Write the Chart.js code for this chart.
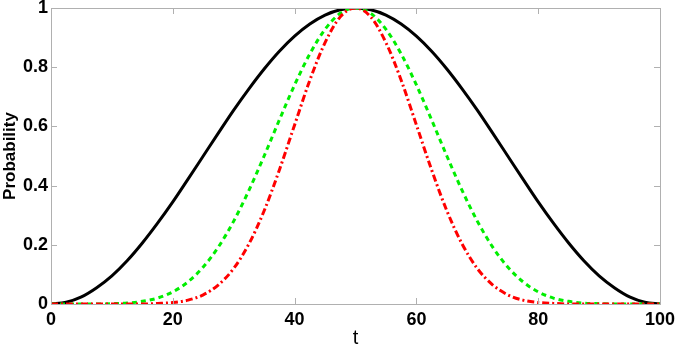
<!DOCTYPE html>
<html>
<head>
<meta charset="utf-8">
<script src="https://cdn.jsdelivr.net/npm/chart.js@4.4.0/dist/chart.umd.min.js"></script>
<style>
  html, body { margin: 0; padding: 0; background: #fff; }
  #wrap { width: 675px; height: 350px; }
</style>
</head>
<body>
<div id="wrap"><canvas id="prob-chart"></canvas></div>
<script>
// t values, step 2.5
let tValues = [0, 2.5, 5, 7.5, 10, 12.5, 15, 17.5, 20, 22.5, 25, 27.5, 30, 32.5, 35, 37.5, 40, 42.5, 45, 47.5, 50,
    52.5, 55, 57.5, 60, 62.5, 65, 67.5, 70, 72.5, 75, 77.5, 80, 82.5, 85, 87.5, 90, 92.5, 95, 97.5, 100]

let blackCurve = [0, 0.006, 0.024, 0.055, 0.095, 0.146, 0.206, 0.273, 0.345, 0.422, 0.5, 0.578, 0.655, 0.727, 0.794, 0.854, 0.905, 0.946, 0.976, 0.994, 1,
    0.994, 0.976, 0.946, 0.905, 0.854, 0.794, 0.727, 0.655, 0.578, 0.5, 0.422, 0.345, 0.273, 0.206, 0.146, 0.095, 0.055, 0.024, 0.006, 0]

let greenCurve = [0, 0, 0, 0, 0.001, 0.003, 0.009, 0.020, 0.041, 0.075, 0.125, 0.193, 0.280, 0.384, 0.500, 0.622, 0.740, 0.845, 0.928, 0.982, 1,
    0.982, 0.928, 0.845, 0.740, 0.622, 0.500, 0.384, 0.280, 0.193, 0.125, 0.075, 0.041, 0.020, 0.009, 0.003, 0.001, 0, 0, 0, 0]

let redCurve = [0, 0, 0, 0, 0, 0, 0, 0.002, 0.005, 0.013, 0.031, 0.065, 0.120, 0.203, 0.315, 0.453, 0.605, 0.756, 0.883, 0.970, 1,
    0.970, 0.883, 0.756, 0.605, 0.453, 0.315, 0.203, 0.120, 0.065, 0.031, 0.013, 0.005, 0.002, 0, 0, 0, 0, 0, 0, 0]

let xTicks = [0, 20, 40, 60, 80, 100]
let yTicks = [0, 0.2, 0.4, 0.6, 0.8, 1]

function toPoints(vals) {
    return tValues.map((t, i) => ({ x: t, y: vals[i] }))
}

// matlab-like box with inward ticks
const boxPlugin = {
    id: "boxTicks",
    afterDraw(chart) {
        let ctx = chart.ctx
        let a = chart.chartArea
        let xs = chart.scales.x
        let ys = chart.scales.y
        ctx.save()
        ctx.strokeStyle = "#b0b0b0"
        ctx.lineWidth = 1
        ctx.strokeRect(Math.round(a.left) + 0.5, Math.round(a.top) + 0.5, Math.round(a.right - a.left), Math.round(a.bottom - a.top))
        ctx.beginPath()
        for (let v of xTicks) {
            let px = Math.round(xs.getPixelForValue(v)) + 0.5
            ctx.moveTo(px, a.bottom); ctx.lineTo(px, a.bottom - 6)
            ctx.moveTo(px, a.top); ctx.lineTo(px, a.top + 6)
        }
        for (let v of yTicks) {
            let py = Math.round(ys.getPixelForValue(v)) + 0.5
            ctx.moveTo(a.left, py); ctx.lineTo(a.left + 6, py)
            ctx.moveTo(a.right, py); ctx.lineTo(a.right - 6, py)
        }
        ctx.stroke()
        ctx.restore()
    }
}

let ctx = document.getElementById("prob-chart").getContext("2d")
let myChart = new Chart(ctx, {
    type: "line",
    data: {
        datasets: [
            { data: toPoints(blackCurve), borderColor: "#000000", borderWidth: 3, order: 3 },
            { data: toPoints(greenCurve), borderColor: "#00ee00", borderWidth: 3, borderDash: [5, 4], order: 2 },
            { data: toPoints(redCurve), borderColor: "#ff0000", borderWidth: 3, borderDash: [7, 3, 2, 3], order: 1 }
        ]
    },
    plugins: [boxPlugin],
    options: {
        responsive: true,
        maintainAspectRatio: false,
        animation: false,
        layout: { padding: { top: 8, right: 15, left: 0, bottom: 0 } },
        elements: {
            point: { radius: 0 },
            line: { cubicInterpolationMode: "monotone", fill: false }
        },
        plugins: { legend: { display: false }, tooltip: { enabled: false } },
        scales: {
            x: {
                type: "linear",
                min: 0, max: 100,
                grid: { display: false, drawTicks: false },
                border: { display: false },
                afterBuildTicks: (s) => { s.ticks = xTicks.map(v => ({ value: v })) },
                afterFit: (s) => { s.height = 46; s.paddingLeft = 0; s.paddingRight = 0 },
                ticks: {
                    color: "#000",
                    padding: 5,
                    maxRotation: 0,
                    callback: (v) => String(v),
                    font: { family: "Liberation Sans", size: 18, weight: "bold" }
                },
                title: {
                    display: true,
                    text: "t",
                    color: "#000",
                    padding: { top: 0, bottom: 0 },
                    font: { family: "Liberation Sans", size: 20 }
                }
            },
            y: {
                min: 0, max: 1,
                grid: { display: false, drawTicks: false },
                border: { display: false },
                afterBuildTicks: (s) => { s.ticks = yTicks.map(v => ({ value: v })) },
                afterFit: (s) => { s.width = 51; s.paddingTop = 0; s.paddingBottom = 0 },
                ticks: {
                    color: "#000",
                    padding: 3,
                    callback: (v) => String(v),
                    font: { family: "Liberation Sans", size: 18, weight: "bold" }
                },
                title: {
                    display: true,
                    text: "Probability",
                    color: "#000",
                    padding: { top: 0, bottom: 0 },
                    font: { family: "Liberation Sans", size: 17, weight: "bold" }
                }
            }
        }
    }
})
</script>
</body>
</html>
